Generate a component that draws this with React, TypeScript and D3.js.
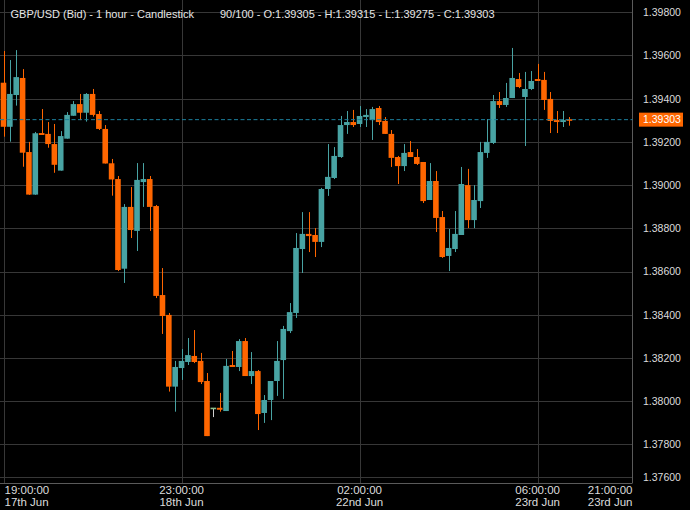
import React, { useEffect } from "react";
import * as d3 from "d3";

const W = 690;
const H = 510;

// OHLC per hourly candle (index 0 = 19:00 17th Jun)
const opens = [
  1.39474, 1.3927, 1.39417, 1.39496, 1.39153, 1.38956, 1.39241, 1.39237, 1.3919, 1.39067,
  1.39215, 1.39321, 1.39375, 1.39335, 1.39422, 1.39329, 1.3926, 1.39101, 1.39028, 1.38613,
  1.38899, 1.38788, 1.39014, 1.39028, 1.38903, 1.38491, 1.38399, 1.38067, 1.38153, 1.38181,
  1.38209, 1.38186, 1.38093, 1.37966, 1.37969, 1.37954, 1.38167, 1.38158, 1.38278, 1.38116,
  1.38139, 1.37945, 1.38005, 1.38093, 1.3819, 1.38324, 1.38408, 1.38704, 1.38774, 1.38769,
  1.38737, 1.38982, 1.39033, 1.3913, 1.39278, 1.39292, 1.39283, 1.39315, 1.39301, 1.39357,
  1.39297, 1.39237, 1.3913, 1.39088, 1.39153, 1.3913, 1.39107, 1.38931, 1.39019, 1.38852,
  1.38672, 1.38704, 1.38769, 1.39, 1.38838, 1.38926, 1.39149, 1.39195, 1.39389, 1.39371,
  1.39403, 1.39491, 1.39408, 1.39445, 1.39491, 1.39487, 1.39399, 1.39301, 1.39292, 1.39305,
];
const highs = [
  1.39621, 1.39579, 1.39625, 1.39537, 1.392, 1.39246, 1.39352, 1.39292, 1.39283, 1.3925,
  1.39338, 1.39389, 1.39422, 1.39426, 1.39445, 1.39343, 1.39278, 1.39121, 1.39042, 1.38912,
  1.38991, 1.39102, 1.39102, 1.39042, 1.38908, 1.38616, 1.38408, 1.38186, 1.38241, 1.38292,
  1.38329, 1.38223, 1.3813, 1.37966, 1.38038, 1.38195, 1.38232, 1.38287, 1.38292, 1.38227,
  1.38144, 1.38028, 1.38093, 1.38278, 1.38348, 1.38454, 1.38778, 1.38875, 1.38875, 1.38801,
  1.38987, 1.3919, 1.39176, 1.3932, 1.39343, 1.39348, 1.39366, 1.39352, 1.39362, 1.39366,
  1.39315, 1.39255, 1.39135, 1.3919, 1.39204, 1.39167, 1.39107, 1.39102, 1.39065, 1.3888,
  1.38797, 1.3888, 1.39084, 1.39075, 1.39, 1.392, 1.39306, 1.39417, 1.39431, 1.39473,
  1.39635, 1.39519, 1.39524, 1.39528, 1.39561, 1.39524, 1.39431, 1.39343, 1.39343, 1.39315,
];
const lows = [
  1.39224, 1.39201, 1.39368, 1.39085, 1.38955, 1.38955, 1.39232, 1.39173, 1.39057, 1.39067,
  1.39215, 1.39321, 1.39301, 1.39294, 1.39317, 1.39255, 1.391, 1.38951, 1.38602, 1.38547,
  1.38755, 1.38695, 1.38899, 1.38788, 1.38477, 1.38311, 1.38044, 1.37951, 1.38098, 1.38167,
  1.38176, 1.38079, 1.37838, 1.37926, 1.37951, 1.37954, 1.38158, 1.38139, 1.38116, 1.38079,
  1.37866, 1.37899, 1.37912, 1.38024, 1.3801, 1.38315, 1.38385, 1.38593, 1.3869, 1.38667,
  1.38713, 1.3895, 1.39028, 1.39126, 1.39237, 1.39269, 1.39269, 1.39269, 1.39209, 1.39278,
  1.39237, 1.39084, 1.39005, 1.39065, 1.3913, 1.39093, 1.38917, 1.38931, 1.38783, 1.38663,
  1.38602, 1.3869, 1.38769, 1.38801, 1.38801, 1.38894, 1.39126, 1.3919, 1.39357, 1.39362,
  1.39403, 1.39449, 1.39181, 1.3944, 1.39482, 1.39348, 1.39241, 1.39241, 1.39269, 1.39275,
];
const closes = [
  1.3927, 1.39422, 1.395, 1.3915, 1.38956, 1.3924, 1.39232, 1.3919, 1.39094, 1.39227,
  1.39325, 1.39375, 1.39335, 1.39422, 1.39325, 1.3926, 1.391, 1.39026, 1.38607, 1.38899,
  1.38792, 1.39024, 1.39028, 1.38899, 1.38487, 1.38394, 1.38067, 1.38158, 1.38186, 1.38213,
  1.38181, 1.38088, 1.37838, 1.37966, 1.3796, 1.38163, 1.38158, 1.38278, 1.38116, 1.38139,
  1.3794, 1.38005, 1.38093, 1.38186, 1.38334, 1.38412, 1.38709, 1.38774, 1.38764, 1.38737,
  1.38982, 1.39038, 1.39135, 1.39278, 1.39292, 1.39278, 1.3932, 1.39325, 1.39352, 1.39292,
  1.39237, 1.39126, 1.39088, 1.39149, 1.3913, 1.39098, 1.38926, 1.39019, 1.38848, 1.38667,
  1.38709, 1.38774, 1.39005, 1.38838, 1.38931, 1.39153, 1.392, 1.39389, 1.39371, 1.39403,
  1.39496, 1.39454, 1.39445, 1.39482, 1.39482, 1.39394, 1.39297, 1.39292, 1.39301, 1.39303,
];

const priceTicks = [1.398, 1.396, 1.394, 1.392, 1.39, 1.388, 1.386, 1.384, 1.382, 1.38, 1.378, 1.376];
const timeTickIndex = [0, 28, 56, 84, 99];
const timeTickTime = ["19:00:00", "23:00:00", "02:00:00", "06:00:00", "21:00:00"];
const timeTickDate = ["17th Jun", "18th Jun", "22nd Jun", "23rd Jun", "23rd Jun"];

const titleLeft = "GBP/USD (Bid) - 1 hour - Candlestick";
const titleRight = "90/100 - O:1.39305 - H:1.39315 - L:1.39275 - C:1.39303";
const lastPrice = 1.39303;

const UP = "#48a3a3";
const DOWN = "#ff6600";
const DOJI_BODY = "#8cc08c";
const DOJI_WICK = "#cfcfcf";
const FONT = "'Liberation Sans', Arial, Helvetica, sans-serif";

export default function App() {
  useEffect(() => {
    document.body.style.margin = "0";
    document.body.style.background = "#000";
  }, []);

  const plotRight = 632.5;
  const plotBottom = 483;
  const x = d3.scaleLinear().domain([0, 99]).range([3.5, 633]);
  const y = d3.scaleLinear().domain([1.378, 1.398]).range([444.3, 12.3]);
  const bodyW = 5.6;

  const tickY = (t: number) => Math.min(y(t), plotBottom - 6);

  return (
    <svg width={W} height={H} style={{ display: "block", background: "#000" }} fontFamily={FONT}>
      <rect x={0} y={0} width={W} height={H} fill="#000" />
      {/* horizontal grid */}
      {priceTicks.map((t) => (
        <line key={"g" + t} x1={0} x2={plotRight} y1={Math.round(tickY(t)) + 0.5} y2={Math.round(tickY(t)) + 0.5} stroke="#373737" strokeWidth={1} />
      ))}
      {/* vertical grid */}
      {timeTickIndex.slice(0, 4).map((i) => (
        <line key={"v" + i} x1={Math.round(x(i)) + 0.5} x2={Math.round(x(i)) + 0.5} y1={0} y2={plotBottom} stroke="#373737" strokeWidth={1} />
      ))}
      {/* axes */}
      <line x1={plotRight} x2={plotRight} y1={0} y2={plotBottom} stroke="#5a5a5a" strokeWidth={1} />
      <line x1={0} x2={plotRight} y1={plotBottom + 0.5} y2={plotBottom + 0.5} stroke="#5a5a5a" strokeWidth={1} />

      {/* candles */}
      {opens.map((o, i) => {
        const c = closes[i];
        const cx = x(i);
        const doji = o === c;
        const col = doji ? DOJI_BODY : c >= o ? UP : DOWN;
        const wick = doji ? DOJI_WICK : col;
        const top = y(Math.max(o, c));
        const bot = y(Math.min(o, c));
        const h = Math.max(1.6, bot - top);
        return (
          <g key={"c" + i}>
            <line x1={Math.round(cx) + 0.5} x2={Math.round(cx) + 0.5} y1={y(highs[i])} y2={y(lows[i])} stroke={wick} strokeWidth={1} />
            <rect x={cx - bodyW / 2} y={doji ? top - 0.8 : top} width={bodyW} height={h} fill={col} />
          </g>
        );
      })}

      {/* current price line */}
      <line x1={0} x2={plotRight} y1={y(lastPrice)} y2={y(lastPrice)} stroke="#1d7f9c" strokeWidth={1} strokeDasharray="4,2.5" />

      {/* price labels */}
      {priceTicks.map((t) => (
        <text key={"t" + t} x={643} y={tickY(t) + 3.8} fill="#dcdcdc" fontSize={10.5}>
          {t.toFixed(5)}
        </text>
      ))}
      <rect x={639} y={y(lastPrice) - 7} width={44} height={14} fill={DOWN} />
      <text x={643} y={y(lastPrice) + 3.8} fill="#ffffff" fontSize={10.5}>
        {lastPrice.toFixed(5)}
      </text>

      {/* time labels */}
      {timeTickIndex.map((idx, k) => {
        const cx = x(idx);
        let anchor: "start" | "middle" | "end" = "middle";
        let tx = cx;
        if (k === 0) {
          anchor = "start";
          tx = 4.5;
        } else if (k === timeTickIndex.length - 1) {
          anchor = "end";
          tx = plotRight;
        }
        return (
          <g key={"x" + idx}>
            <text x={tx} y={493.5} textAnchor={anchor} fill="#dcdcdc" fontSize={11.5}>
              {timeTickTime[k]}
            </text>
            <text x={tx} y={506} textAnchor={anchor} fill="#dcdcdc" fontSize={11.5}>
              {timeTickDate[k]}
            </text>
          </g>
        );
      })}

      {/* title */}
      <text x={10.5} y={18.3} fill="#e6e6e6" fontSize={11}>
        {titleLeft}
      </text>
      <text x={220} y={18.3} fill="#e6e6e6" fontSize={11}>
        {titleRight}
      </text>
    </svg>
  );
}
